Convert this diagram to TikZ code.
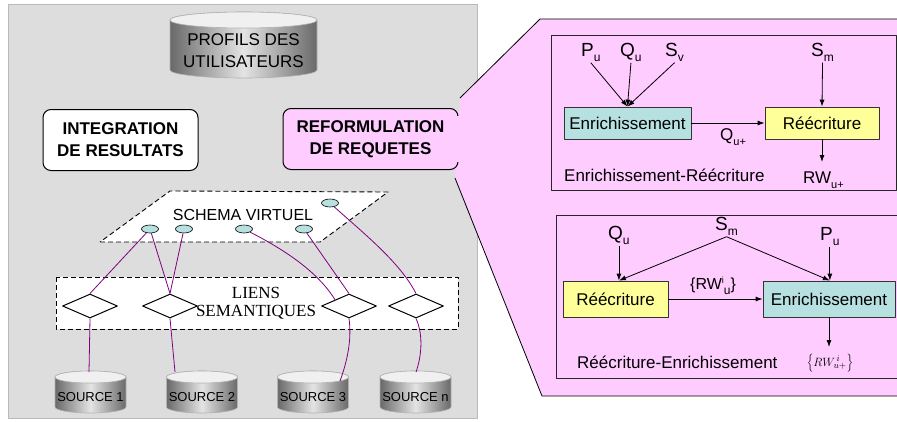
\documentclass[tikz,border=0pt]{standalone}
\usepackage{fontspec}
\setmainfont{Liberation Sans}
\newfontfamily\timesfont{Liberation Serif}
\usetikzlibrary{arrows.meta,shapes.geometric}
\definecolor{panelgray}{RGB}{221,221,221}
\definecolor{panelborder}{RGB}{185,185,185}
\definecolor{pinkc}{RGB}{255,204,255}
\definecolor{tealc}{RGB}{183,224,224}
\definecolor{yellowc}{RGB}{255,255,153}
\definecolor{linkc}{RGB}{128,0,128}
\definecolor{cyldark}{RGB}{105,105,105}
\definecolor{cyllight}{RGB}{228,228,228}
\definecolor{cyltop}{RGB}{240,240,240}
\newcommand\dbcyl[5]{%
  \shadedraw[left color=cyldark,right color=cyldark,middle color=cyllight,draw=gray!60,line width=0.6pt]
    (#1-#4,#2) -- (#1-#4,#3) arc[start angle=180,end angle=360,x radius=#4pt,y radius=#5pt]
    -- (#1+#4,#2) arc[start angle=0,end angle=180,x radius=#4pt,y radius=#5pt] -- cycle;
  \filldraw[fill=cyltop,draw=gray!60,line width=0.6pt] (#1,#2) ellipse[x radius=#4pt,y radius=#5pt];}
\newcommand\lowsub[2][12]{\raisebox{-5.5pt}{\fontsize{#1}{#1}\selectfont #2}}
\begin{document}
\begin{tikzpicture}[x=1pt,y=-1pt,line join=round,
  arr/.style={-{Latex[length=7pt,width=5pt]},line width=0.8pt},
  link/.style={draw=linkc,line width=0.8pt},
  fbox/.style={draw=black!80,line width=0.8pt,inner sep=0pt,font=\fontsize{17}{20}\selectfont},
  enrbox/.style={fbox,fill=tealc},
  rewbox/.style={fbox,fill=yellowc},
  lab/.style={inner sep=1pt,anchor=base west,font=\fontsize{19}{22}\selectfont},
  labs/.style={inner sep=1pt,anchor=base west,font=\fontsize{17}{20}\selectfont},
  attr/.style={ellipse,draw=black,line width=0.6pt,fill=tealc,minimum width=17pt,minimum height=8pt,inner sep=0pt},
  lien/.style={diamond,draw=black,line width=1pt,fill=white,minimum width=55pt,minimum height=24pt,inner sep=0pt},
  modbox/.style={draw=black,line width=1pt,rounded corners=8pt,inner sep=0pt,align=center,
     minimum height=61pt,font=\fontsize{17}{22}\selectfont\bfseries},
  srclab/.style={inner sep=0pt,font=\fontsize{13}{15}\selectfont}]
\useasboundingbox (0,0) rectangle (897,421);
\fill[white] (0,0) rectangle (897,421);
% left panel
\draw[fill=panelgray,draw=panelborder,line width=1pt] (8,4) rectangle (477,418);
\dbcyl{243.5}{20}{70}{73.5}{8}
\node[inner sep=0pt,align=center,font=\fontsize{17}{22}\selectfont] (profils) at (243.5,51) {PROFILS DES\\UTILISATEURS};
\node[modbox,fill=white,minimum width=155pt] (integ) at (120.5,140) {INTEGRATION\\DE RESULTATS};
% callout
\fill[pinkc] (460,98) -- (540,19) -- (899,19) -- (899,396) -- (542,396) -- (455,178) -- cycle;
\node[modbox,fill=pinkc,minimum width=175pt] (reform) at (370.5,139) {REFORMULATION\\DE REQUETES};
\fill[pinkc] (452,116) rectangle (470,162);
\draw[line width=0.8pt] (460,98) -- (540,19) -- (899,19);
\draw[line width=0.8pt] (899,396) -- (542,396) -- (455,178);
% schema virtuel
\draw[dashed,dash pattern=on 5pt off 3pt,line width=0.9pt,fill=white] (100,242) -- (320,242) -- (388,192) -- (170,191) -- cycle;
\node[inner sep=0pt,font=\fontsize{16}{18}\selectfont] (schema) at (243,215) {SCHEMA VIRTUEL};
\node[attr] (e1) at (150,229) {};
\node[attr] (e2) at (184,229) {};
\node[attr] (e3) at (244,229) {};
\node[attr] (e4) at (304,229) {};
\node[attr] (e5) at (330,203) {};
% liens semantiques
\draw[dashed,dash pattern=on 5pt off 3pt,line width=0.9pt,fill=white] (56,277) rectangle (458,329);
\node[inner sep=0pt,align=center,font=\timesfont\fontsize{17}{18}\selectfont] (liens) at (256,303) {LIENS\\SEMANTIQUES};
\node[lien] (d1) at (90,306) {};
\node[lien] (d2) at (170,306) {};
\node[lien] (d3) at (349,306) {};
\node[lien] (d4) at (416,306) {};
% sources
\dbcyl{90.5}{377}{407}{35.5}{6}
\dbcyl{202}{377}{407}{35.5}{6}
\dbcyl{313}{377}{407}{35.5}{6}
\dbcyl{415.5}{377}{407}{35.5}{6}
\node[srclab] (s1) at (90.5,397) {SOURCE 1};
\node[srclab] (s2) at (202,397) {SOURCE 2};
\node[srclab] (s3) at (313,397) {SOURCE 3};
\node[srclab] (s4) at (415.5,397) {SOURCE n};
\coordinate (s1t) at (89,372);
\coordinate (s2t) at (175,372);
\coordinate (s3t) at (340,381);
\coordinate (s4t) at (416,372);
% links
\draw[link] (e1) -- (d1.north);
\draw[link] (e1) -- (d2.north);
\draw[link] (e2) -- (d2.north);
\draw[link] (e3) .. controls (285,250) and (318,272) .. (d3.north west);
\draw[link] (e4) -- (d3.north);
\draw[link] (e5) .. controls (362,232) and (400,262) .. (d4.north);
\draw[link] (d1.south) -- (s1t);
\draw[link] (d2.south) -- (s2t);
\draw[link] (d3.south) .. controls (352,340) and (347,362) .. (s3t);
\draw[link] (d4.south) .. controls (424,336) and (421,358) .. (s4t);
% top inner box
\draw[draw=black!85,line width=0.8pt] (551,35) rectangle (896,190);
\node[lab] (pu1) at (580,56) {P\lowsub{u}};
\node[lab] (qu1) at (619,56) {Q\lowsub{u}};
\node[lab] (sv1) at (664,56) {S\lowsub{v}};
\node[lab] (sm1) at (810,56) {S\lowsub{m}};
\node[enrbox,minimum width=127pt,minimum height=32pt] (enr1) at (627.5,123) {Enrichissement};
\node[rewbox,minimum width=114pt,minimum height=32pt] (rew1) at (822,123) {Réécriture};
\draw[arr] (pu1.south) -- (enr1.north);
\draw[arr] (qu1.south) -- (enr1.north);
\draw[arr] (sv1.south) -- (enr1.north);
\draw[arr] (sm1.south) -- (rew1.north);
\draw[arr] (enr1.east) -- (rew1.west);
\node[labs] (qup) at (719,140) {Q\lowsub[11]{u+}};
\coordinate (rwt1) at (822,162);
\draw[arr] (rew1.south) -- (rwt1);
\node[labs] (rwu) at (802,183) {RW\lowsub[11]{u+}};
\node[labs] (er) at (563,181) {Enrichissement-Réécriture};
% lower inner box
\draw[draw=black!85,line width=0.8pt] (556,215) rectangle (899,378);
\node[lab] (qu2) at (607,239) {Q\lowsub{u}};
\node[lab] (sm2) at (714,230) {S\lowsub{m}};
\node[lab] (pu2) at (819,240) {P\lowsub{u}};
\node[rewbox,minimum width=105pt,minimum height=36pt] (rew2) at (615.5,299) {Réécriture};
\node[enrbox,minimum width=132pt,minimum height=36pt] (enr2) at (829,299) {Enrichissement};
\draw[arr] (qu2.south) -- (qu2.south |- rew2.north);
\draw[arr] (sm2.south) -- (qu2.south |- rew2.north);
\draw[arr] (sm2.south) -- (pu2.south |- enr2.north);
\draw[arr] (pu2.south) -- (pu2.south |- enr2.north);
\draw[arr] (rew2.east) -- (enr2.west);
\node[inner sep=1pt,anchor=base west,font=\fontsize{16}{18}\selectfont] (rwi) at (689,289) {\{RW\raisebox{6pt}{\fontsize{9}{9}\selectfont i}\lowsub[12]{u}\}};
\coordinate (rwt2) at (829,347);
\draw[arr] (enr2.south) -- (rwt2);
\node[inner sep=0pt,font=\fontsize{12.5}{14}\selectfont] (rwi2) at (830,363) {$\left\{RW^{\,i}_{u+}\right\}$};
\node[labs] (re) at (576,368) {Réécriture-Enrichissement};
\end{tikzpicture}
\end{document}
